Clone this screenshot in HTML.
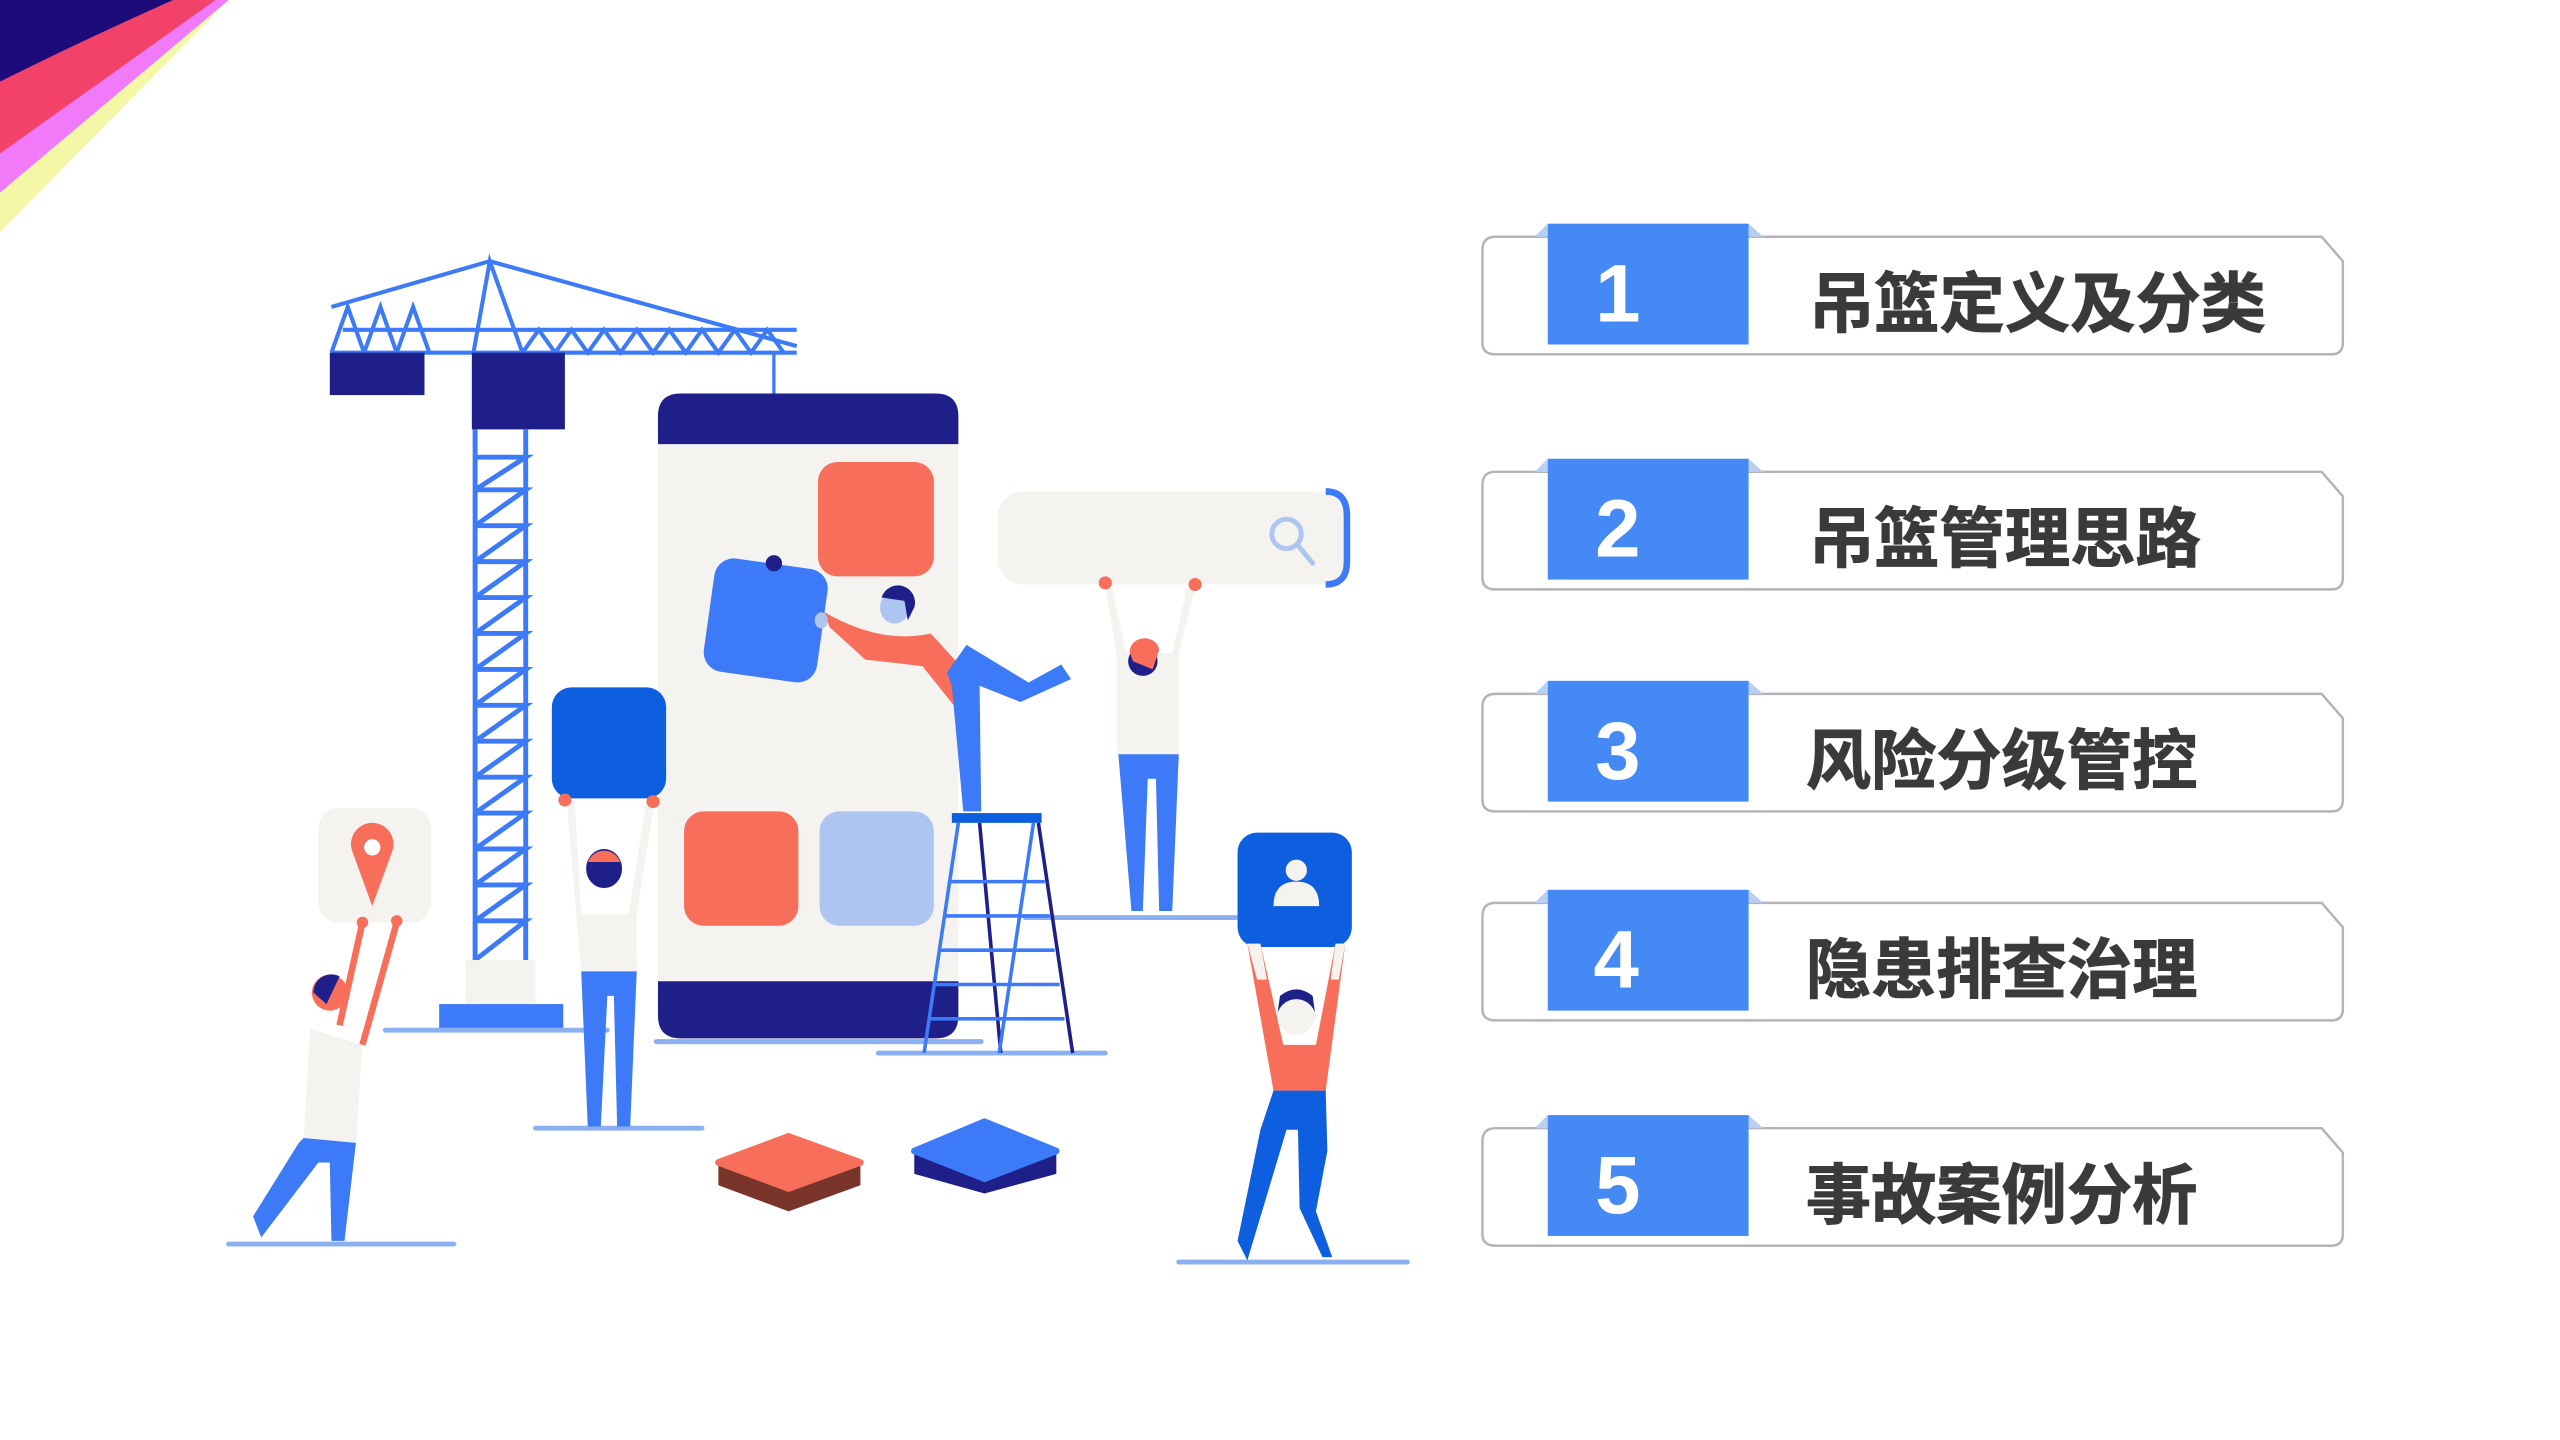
<!DOCTYPE html>
<html><head><meta charset="utf-8"><style>
html,body{margin:0;padding:0;background:#fff;width:2560px;height:1440px;overflow:hidden}
svg{display:block}
.t{font-family:"Liberation Sans","Noto Sans CJK SC",sans-serif;font-weight:bold;fill:#3a3a3a;font-size:40px;stroke:#3a3a3a;stroke-width:0.6}
.n{font-family:"Liberation Sans",sans-serif;font-weight:bold;fill:#fff;font-size:50px}
</style></head><body>
<svg width="2560" height="1440" viewBox="0 0 1568 882" xmlns="http://www.w3.org/2000/svg">
<!-- corner -->
<polygon points="0,0 140,0 0,142" fill="#f3f7a6"/>
<polygon points="0,0 140,0 0,118" fill="#f07af7"/>
<polygon points="0,0 132,0 0,94" fill="#f34269"/>
<path d="M0,0 L106,0 Q50,25 0,50 Z" fill="#1d0b7a"/>

<!-- crane -->
<g stroke="#3d7af7" stroke-width="2.5" fill="none">
<line x1="300" y1="160" x2="203" y2="188"/>
<line x1="300" y1="160" x2="488" y2="212"/>
<polyline points="290,216 300,160 320,216"/>
<line x1="203" y1="216" x2="488" y2="216"/>
<line x1="210" y1="202" x2="488" y2="202"/>
<polyline points="203,216 213,188 223,216 233,188 243,216 253,188 263,216"/>
<polyline points="320,216 330,202 340,216 350,202 360,216 370,202 380,216 390,202 400,216 410,202 420,216 430,202 440,216 450,202 460,216 470,202 480,216"/>
</g>
<rect x="202" y="216" width="58" height="26" fill="#1f1f8a"/>
<rect x="289" y="216" width="57" height="47" fill="#1f1f8a"/>
<g stroke="#3d7af7" stroke-width="3" fill="none">
<line x1="291" y1="263" x2="291" y2="588"/><line x1="322" y1="263" x2="322" y2="588"/>
<path d="M291,280 H322 L291,300 M291,300 H322 L291,322 M291,322 H322 L291,344 M291,344 H322 L291,366 M291,366 H322 L291,388 M291,388 H322 L291,410 M291,410 H322 L291,432 M291,432 H322 L291,454 M291,454 H322 L291,476 M291,476 H322 L291,498 M291,498 H322 L291,520 M291,520 H322 L291,542 M291,542 H322 L291,564 M291,564 H322 L291,588"/>
</g>
<rect x="285" y="588" width="43" height="27" fill="#f4f3ef"/>
<rect x="269" y="615" width="76" height="15" fill="#3d7af7"/>
<line x1="474" y1="216" x2="474" y2="345" stroke="#3d7af7" stroke-width="2"/>

<!-- ground lines -->
<g stroke="#8bb0f0" stroke-width="3" stroke-linecap="round">
<line x1="140" y1="762" x2="278" y2="762"/><line x1="236" y1="631" x2="372" y2="631"/>
<line x1="328" y1="691" x2="430" y2="691"/><line x1="402" y1="638" x2="601" y2="638"/>
<line x1="538" y1="645" x2="677" y2="645"/><line x1="628" y1="562" x2="757" y2="562"/>
<line x1="722" y1="773" x2="862" y2="773"/>
</g>

<!-- phone -->
<rect x="403" y="241" width="184" height="395" rx="14" fill="#f4f3ef"/>
<path d="M403,272 V255 Q403,241 417,241 H573 Q587,241 587,255 V272 Z" fill="#1f1f8a"/>
<path d="M403,601 H587 V622 Q587,636 573,636 H417 Q403,636 403,622 Z" fill="#1f1f8a"/>
<rect x="501" y="283" width="71" height="70" rx="12" fill="#f76e5a"/>
<rect x="419" y="497" width="70" height="70" rx="12" fill="#f76e5a"/>
<rect x="502" y="497" width="70" height="70" rx="12" fill="#aec4f1"/>
<rect x="434" y="345" width="70" height="70" rx="12" fill="#3d7af7" transform="rotate(8 469 380)"/>
<circle cx="474" cy="345" r="5" fill="#1f1f8a"/>

<!-- search -->
<rect x="611" y="301" width="214" height="57" rx="16" fill="#f4f3ef"/>
<path d="M812,301 Q825,301 825,316 V344 Q825,358 812,358" fill="none" stroke="#3d7af7" stroke-width="4"/>
<circle cx="788" cy="327" r="9" fill="none" stroke="#aec4f1" stroke-width="3"/>
<line x1="795" y1="334" x2="804" y2="345" stroke="#aec4f1" stroke-width="3" stroke-linecap="round"/>

<!-- blue box -->
<rect x="338" y="421" width="70" height="68" rx="12" fill="#0e5ee0"/>
<!-- pin card -->
<rect x="195" y="495" width="69" height="70" rx="12" fill="#f4f3ef"/>
<path d="M228,555 L216,522 A13,13 0 1 1 240,522 Z" fill="#f76e5a"/>
<circle cx="228" cy="519" r="5" fill="#fff"/>
<!-- user card -->
<rect x="758" y="510" width="70" height="70" rx="12" fill="#0e5ee0"/>
<circle cx="794" cy="533" r="6.5" fill="#f4f3ef"/>
<path d="M780,555 Q780,540 794,540 Q808,540 808,555 Z" fill="#f4f3ef"/>

<!-- ladder -->
<rect x="583" y="498" width="55" height="6" fill="#0e5ee0"/>
<g stroke-width="2.2">
<line x1="587" y1="504" x2="566" y2="645" stroke="#3d7af7"/>
<line x1="600" y1="504" x2="613" y2="645" stroke="#1f1f8a"/>
<line x1="633" y1="504" x2="612" y2="645" stroke="#3d7af7"/>
<line x1="636" y1="504" x2="657" y2="645" stroke="#1f1f8a"/>
<g stroke="#3d7af7"><line x1="582" y1="540" x2="640" y2="540"/><line x1="578" y1="561" x2="643" y2="561"/><line x1="575" y1="582" x2="646" y2="582"/><line x1="572" y1="603" x2="649" y2="603"/><line x1="569" y1="624" x2="652" y2="624"/></g>
</g>

<!-- platforms -->
<path d="M440,712 L440,726 L483,742 L527,726 L527,712 Z" fill="#7a352b"/>
<path d="M440,712 L483,696 L527,712 L483,728 Z" fill="#f76e5a" stroke="#f76e5a" stroke-width="4" stroke-linejoin="round"/>
<path d="M560,705 L560,719 L603,731 L647,719 L647,705 Z" fill="#1f1f8a"/>
<path d="M560,705 L603,687 L647,705 L603,722 Z" fill="#3d7af7" stroke="#3d7af7" stroke-width="4" stroke-linejoin="round"/>

<!-- person crane-left -->
<path d="M190,630 L222,640 L218,700 L186,697 Z" fill="#f4f3ef"/>
<path d="M222,640 L243,565 M208,628 L222,565" stroke="#f76e5a" stroke-width="4"/>
<path d="M186,697 L218,700 L211,760 L203,760 L202,712 L195,712 L160,758 L155,745 L183,700 Z" fill="#3d7af7"/>
<circle cx="202" cy="608" r="11" fill="#f76e5a"/><path d="M192,608 A11,11 0 0 1 208,598 L200,615 Z" fill="#1f1f8a"/>
<circle cx="222" cy="565" r="3.5" fill="#f76e5a"/><circle cx="243" cy="564" r="3.5" fill="#f76e5a"/>

<!-- person under blue box -->
<path d="M347,490 L356,595 L390,595 L390,560 L401,490 L396,490 L385,560 L356,560 L352,490 Z" fill="#f4f3ef"/>
<path d="M356,595 L390,595 L386,690 L378,690 L376,610 L372,610 L368,690 L360,690 Z" fill="#3d7af7"/>
<ellipse cx="370" cy="532" rx="11" ry="12" fill="#1f1f8a"/><path d="M360,528 A11,12 0 0 1 380,528 Z" fill="#f76e5a"/>
<circle cx="346" cy="490" r="4" fill="#f76e5a"/><circle cx="400" cy="491" r="4" fill="#f76e5a"/>

<!-- person on ladder -->
<path d="M505,375 Q540,395 570,388 L592,412 L585,433 L565,408 L530,404 L508,384 Z" fill="#f76e5a"/>
<path d="M592,395 L630,418 L650,407 L656,416 L625,430 L600,420 L601,497 L590,497 L583,420 L580,412 Z" fill="#3d7af7"/>
<ellipse cx="548" cy="372" rx="9" ry="10" fill="#aec4f1"/><path d="M540,366 A10,10 0 0 1 560,372 L556,380 L554,368 Z" fill="#1f1f8a"/>
<ellipse cx="503" cy="380" rx="4" ry="5" fill="#aec4f1"/>

<!-- person under search -->
<path d="M677,360 L684,400 L684,462 L722,462 L722,400 L732,360 L727,360 L718,400 L690,400 L681,360 Z" fill="#f4f3ef"/>
<path d="M685,462 L722,462 L718,558 L710,558 L708,477 L703,477 L700,558 L693,558 Z" fill="#3d7af7"/>
<circle cx="700" cy="405" r="9" fill="#1f1f8a"/><path d="M692,400 A9,8 0 0 1 710,398 L706,410 L694,405 Z" fill="#f76e5a"/>
<circle cx="677" cy="357" r="4" fill="#f76e5a"/><circle cx="732" cy="358" r="4" fill="#f76e5a"/>

<!-- person under user card -->
<path d="M764,578 L780,668 L812,668 L824,578 L818,578 L806,640 L786,640 L772,578 Z" fill="#f76e5a"/>
<path d="M764,578 L770,600 L776,600 L772,578 Z M824,578 L820,600 L815,600 L818,578 Z" fill="#f4f3ef"/>
<path d="M780,668 L812,668 L813,705 L806,742 L816,770 L810,770 L796,740 L795,692 L788,692 L764,772 L758,760 L772,692 Z" fill="#0e5ee0"/>
<ellipse cx="794" cy="622" rx="11" ry="12" fill="#f4f3ef"/><path d="M782,624 A12,12 0 0 1 806,624 L804,610 Q794,602 784,610 Z" fill="#1f1f8a"/>

<!-- list items -->
<g>
<g transform="translate(0,0)">
<path d="M908,153 Q908,145 916,145 H1422 L1435,160 V210 Q1435,217 1428,217 H916 Q908,217 908,210 Z" fill="#fff" stroke="#b4b4b8" stroke-width="1.5"/>
<polygon points="940,145 948,137 948,145" fill="#b8cff2"/><polygon points="1071,137 1080,145 1071,145" fill="#b8cff2"/>
<rect x="948" y="137" width="123" height="74" fill="#4589f4"/>
<text x="977" y="197" class="n">1</text>
<text x="1108" y="200" class="t">吊篮定义及分类</text>
</g>
<g transform="translate(0,144)">
<path d="M908,153 Q908,145 916,145 H1422 L1435,160 V210 Q1435,217 1428,217 H916 Q908,217 908,210 Z" fill="#fff" stroke="#b4b4b8" stroke-width="1.5"/>
<polygon points="940,145 948,137 948,145" fill="#b8cff2"/><polygon points="1071,137 1080,145 1071,145" fill="#b8cff2"/>
<rect x="948" y="137" width="123" height="74" fill="#4589f4"/>
<text x="977" y="197" class="n">2</text>
<text x="1108" y="200" class="t">吊篮管理思路</text>
</g>
<g transform="translate(0,280)">
<path d="M908,153 Q908,145 916,145 H1422 L1435,160 V210 Q1435,217 1428,217 H916 Q908,217 908,210 Z" fill="#fff" stroke="#b4b4b8" stroke-width="1.5"/>
<polygon points="940,145 948,137 948,145" fill="#b8cff2"/><polygon points="1071,137 1080,145 1071,145" fill="#b8cff2"/>
<rect x="948" y="137" width="123" height="74" fill="#4589f4"/>
<text x="977" y="197" class="n">3</text>
<text x="1106" y="200" class="t">风险分级管控</text>
</g>
<g transform="translate(0,408)">
<path d="M908,153 Q908,145 916,145 H1422 L1435,160 V210 Q1435,217 1428,217 H916 Q908,217 908,210 Z" fill="#fff" stroke="#b4b4b8" stroke-width="1.5"/>
<polygon points="940,145 948,137 948,145" fill="#b8cff2"/><polygon points="1071,137 1080,145 1071,145" fill="#b8cff2"/>
<rect x="948" y="137" width="123" height="74" fill="#4589f4"/>
<text x="976" y="197" class="n">4</text>
<text x="1106" y="200" class="t">隐患排查治理</text>
</g>
<g transform="translate(0,546)">
<path d="M908,153 Q908,145 916,145 H1422 L1435,160 V210 Q1435,217 1428,217 H916 Q908,217 908,210 Z" fill="#fff" stroke="#b4b4b8" stroke-width="1.5"/>
<polygon points="940,145 948,137 948,145" fill="#b8cff2"/><polygon points="1071,137 1080,145 1071,145" fill="#b8cff2"/>
<rect x="948" y="137" width="123" height="74" fill="#4589f4"/>
<text x="977" y="197" class="n">5</text>
<text x="1106" y="200" class="t">事故案例分析</text>
</g>
</g>
</svg>
</body></html>
